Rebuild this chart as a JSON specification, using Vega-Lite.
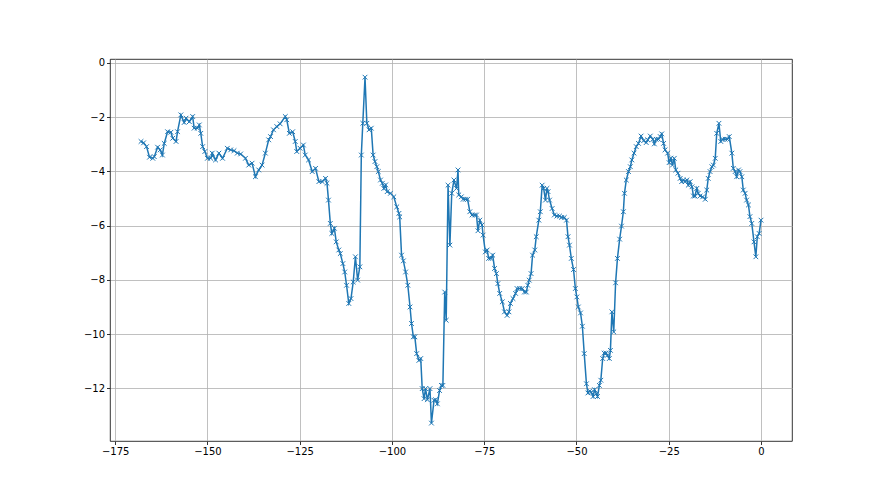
{
  "$schema": "https://vega.github.io/schema/vega-lite/v6.json",
  "width": 682,
  "height": 382,
  "autosize": {"type": "none"},
  "padding": {"left": 110, "top": 59, "right": 88, "bottom": 54},
  "background": "white",
  "config": {
    "view": {"stroke": "black", "strokeWidth": 0.8},
    "axis": {
      "domain": false,
      "grid": true,
      "gridColor": "#b0b0b0",
      "gridWidth": 0.8,
      "tickColor": "black",
      "tickSize": 3.5,
      "tickWidth": 0.8,
      "labelFont": "DejaVu Sans",
      "labelFontSize": 10,
      "labelColor": "black",
      "labelPadding": 2,
      "title": null
    }
  },
  "data": {
    "values": [
      {"x": -168, "y": -2.9}, {"x": -167.3, "y": -2.95}, {"x": -166.5, "y": -3.09}, {"x": -165.7, "y": -3.48}, {"x": -164.8, "y": -3.52}, {"x": -164.4, "y": -3.46},
      {"x": -163.5, "y": -3.11}, {"x": -162.8, "y": -3.21}, {"x": -162.2, "y": -3.4}, {"x": -161.7, "y": -2.97},
      {"x": -160.8, "y": -2.54}, {"x": -159.9, "y": -2.56}, {"x": -159.4, "y": -2.78}, {"x": -158.5, "y": -2.9},
      {"x": -158.1, "y": -2.54}, {"x": -157.2, "y": -1.92}, {"x": -156.3, "y": -2.2}, {"x": -155.8, "y": -2.04},
      {"x": -154.9, "y": -2.17}, {"x": -154, "y": -1.98}, {"x": -153.6, "y": -2.41}, {"x": -152.7, "y": -2.41},
      {"x": -152.2, "y": -2.29}, {"x": -151.8, "y": -2.6}, {"x": -151.3, "y": -3.09}, {"x": -150.7, "y": -3.27},
      {"x": -150, "y": -3.52}, {"x": -149.1, "y": -3.52}, {"x": -148.7, "y": -3.33}, {"x": -147.8, "y": -3.58},
      {"x": -146.9, "y": -3.33}, {"x": -145.9, "y": -3.52}, {"x": -144.6, "y": -3.15}, {"x": -143.7, "y": -3.21},
      {"x": -142.8, "y": -3.24}, {"x": -141.9, "y": -3.33}, {"x": -141, "y": -3.36}, {"x": -139.7, "y": -3.52},
      {"x": -138.8, "y": -3.77}, {"x": -137.9, "y": -3.7}, {"x": -137, "y": -4.2}, {"x": -136.1, "y": -3.95},
      {"x": -135.2, "y": -3.77}, {"x": -134.3, "y": -3.33}, {"x": -133.4, "y": -2.84}, {"x": -132.9, "y": -2.72},
      {"x": -132.1, "y": -2.47}, {"x": -131.2, "y": -2.35}, {"x": -130.3, "y": -2.25}, {"x": -128.9, "y": -1.98},
      {"x": -128.5, "y": -2.1}, {"x": -127.8, "y": -2.6}, {"x": -126.9, "y": -2.54}, {"x": -126.2, "y": -2.9},
      {"x": -125.8, "y": -3.27}, {"x": -124.9, "y": -3.15}, {"x": -124, "y": -3.03}, {"x": -123.5, "y": -3.4},
      {"x": -122.6, "y": -3.58}, {"x": -121.6, "y": -4.01}, {"x": -120.7, "y": -3.89}, {"x": -119.8, "y": -4.38},
      {"x": -118.9, "y": -4.38}, {"x": -118, "y": -4.26}, {"x": -117.6, "y": -4.44}, {"x": -117.2, "y": -5.06},
      {"x": -116.7, "y": -5.92}, {"x": -116.3, "y": -6.29}, {"x": -115.6, "y": -6.1}, {"x": -115.1, "y": -6.6},
      {"x": -114.4, "y": -6.9}, {"x": -114, "y": -7.03}, {"x": -113.3, "y": -7.4}, {"x": -112.8, "y": -7.71},
      {"x": -112.3, "y": -8.2}, {"x": -111.7, "y": -8.87}, {"x": -111.1, "y": -8.69}, {"x": -110.5, "y": -8.08},
      {"x": -109.9, "y": -7.15}, {"x": -109.3, "y": -8.01}, {"x": -108.7, "y": -7.52}, {"x": -108.3, "y": -3.4},
      {"x": -107.9, "y": -2.23}, {"x": -107.3, "y": -0.53}, {"x": -106.8, "y": -2.23}, {"x": -106.2, "y": -2.47},
      {"x": -105.6, "y": -2.41}, {"x": -105.1, "y": -3.4}, {"x": -104.6, "y": -3.64}, {"x": -104.1, "y": -3.83},
      {"x": -103.7, "y": -4.01}, {"x": -103.1, "y": -4.32}, {"x": -102.6, "y": -4.44}, {"x": -102.2, "y": -4.63},
      {"x": -101.7, "y": -4.5}, {"x": -101.3, "y": -4.75}, {"x": -100.4, "y": -4.81}, {"x": -99.5, "y": -4.94},
      {"x": -98.7, "y": -5.31}, {"x": -98.1, "y": -5.55}, {"x": -97.9, "y": -5.68}, {"x": -97.4, "y": -7.09},
      {"x": -96.9, "y": -7.3}, {"x": -96.3, "y": -7.71}, {"x": -95.7, "y": -8.2}, {"x": -95.1, "y": -9.0},
      {"x": -94.7, "y": -9.61}, {"x": -94.2, "y": -10.1}, {"x": -93.8, "y": -10.1}, {"x": -93.3, "y": -10.72},
      {"x": -92.7, "y": -10.97}, {"x": -92.2, "y": -10.9}, {"x": -91.8, "y": -12.01}, {"x": -91.3, "y": -12.38},
      {"x": -90.9, "y": -12.01}, {"x": -90.4, "y": -12.42}, {"x": -89.7, "y": -12.01}, {"x": -89.3, "y": -13.28},
      {"x": -88.6, "y": -12.44}, {"x": -88.2, "y": -12.42}, {"x": -87.7, "y": -12.57}, {"x": -87.1, "y": -12.08},
      {"x": -86.6, "y": -11.89}, {"x": -86.2, "y": -11.89}, {"x": -85.7, "y": -8.45}, {"x": -85.3, "y": -9.49},
      {"x": -84.8, "y": -4.51}, {"x": -84.3, "y": -6.72}, {"x": -83.8, "y": -4.81}, {"x": -83.2, "y": -4.32},
      {"x": -82.5, "y": -4.63}, {"x": -82.1, "y": -3.95}, {"x": -81.9, "y": -4.87}, {"x": -81.2, "y": -4.94},
      {"x": -80.7, "y": -5.03}, {"x": -80.1, "y": -5.03}, {"x": -79.5, "y": -5.03}, {"x": -78.9, "y": -5.49},
      {"x": -78.3, "y": -5.61}, {"x": -77.6, "y": -5.61}, {"x": -77.1, "y": -5.61}, {"x": -76.7, "y": -6.19},
      {"x": -76.2, "y": -5.8}, {"x": -75.6, "y": -5.98}, {"x": -75.3, "y": -6.35}, {"x": -74.7, "y": -6.97},
      {"x": -74.2, "y": -6.9}, {"x": -73.8, "y": -7.21}, {"x": -73.2, "y": -7.21}, {"x": -72.7, "y": -7.09},
      {"x": -72.2, "y": -7.58}, {"x": -71.7, "y": -7.77}, {"x": -71.3, "y": -8.14}, {"x": -70.8, "y": -8.5},
      {"x": -70.1, "y": -8.81}, {"x": -69.5, "y": -9.18}, {"x": -68.8, "y": -9.31}, {"x": -68.3, "y": -9.18},
      {"x": -67.9, "y": -8.87}, {"x": -67.2, "y": -8.69}, {"x": -66.5, "y": -8.5}, {"x": -66.1, "y": -8.32},
      {"x": -65.4, "y": -8.32}, {"x": -64.7, "y": -8.32}, {"x": -64.1, "y": -8.45}, {"x": -63.6, "y": -8.45},
      {"x": -63.2, "y": -8.2}, {"x": -62.8, "y": -8.01}, {"x": -62.3, "y": -7.77}, {"x": -61.9, "y": -7.09},
      {"x": -61.3, "y": -6.9}, {"x": -60.9, "y": -6.41}, {"x": -60.2, "y": -5.8}, {"x": -59.8, "y": -5.49},
      {"x": -59.3, "y": -4.51}, {"x": -58.9, "y": -4.63}, {"x": -58.4, "y": -5.06}, {"x": -58, "y": -4.63},
      {"x": -57.7, "y": -4.75}, {"x": -57.3, "y": -5.06}, {"x": -56.6, "y": -5.37}, {"x": -56, "y": -5.61},
      {"x": -55.3, "y": -5.65}, {"x": -54.6, "y": -5.65}, {"x": -54, "y": -5.7}, {"x": -53.3, "y": -5.7},
      {"x": -52.7, "y": -5.8}, {"x": -52.3, "y": -6.41}, {"x": -51.9, "y": -6.72}, {"x": -51.4, "y": -7.21},
      {"x": -50.8, "y": -7.62}, {"x": -50.3, "y": -8.32}, {"x": -49.9, "y": -8.63}, {"x": -49.5, "y": -9.0},
      {"x": -48.9, "y": -9.22}, {"x": -48.4, "y": -9.71}, {"x": -47.9, "y": -10.72}, {"x": -47.3, "y": -11.83},
      {"x": -46.9, "y": -12.17}, {"x": -46.4, "y": -12.1}, {"x": -46, "y": -12.14}, {"x": -45.5, "y": -12.3},
      {"x": -45.1, "y": -12.05}, {"x": -44.6, "y": -12.2}, {"x": -44.3, "y": -12.3}, {"x": -43.8, "y": -11.89},
      {"x": -43.4, "y": -11.7}, {"x": -42.9, "y": -10.9}, {"x": -42.5, "y": -10.7}, {"x": -42, "y": -10.7},
      {"x": -41.6, "y": -10.78}, {"x": -41.1, "y": -10.9}, {"x": -40.8, "y": -10.6}, {"x": -40.4, "y": -9.18},
      {"x": -39.9, "y": -9.92}, {"x": -39.4, "y": -8.11}, {"x": -38.9, "y": -7.21}, {"x": -38.3, "y": -6.5},
      {"x": -37.8, "y": -6.02}, {"x": -37.3, "y": -5.49}, {"x": -37, "y": -4.81}, {"x": -36.5, "y": -4.32},
      {"x": -35.9, "y": -4.01}, {"x": -35.4, "y": -3.83}, {"x": -35, "y": -3.58}, {"x": -34.4, "y": -3.33},
      {"x": -33.8, "y": -3.09}, {"x": -33.2, "y": -2.97}, {"x": -32.5, "y": -2.7}, {"x": -31.8, "y": -2.87},
      {"x": -31.1, "y": -2.94}, {"x": -30.7, "y": -2.84}, {"x": -30, "y": -2.7}, {"x": -29.3, "y": -2.82},
      {"x": -28.9, "y": -2.99}, {"x": -28.4, "y": -2.82}, {"x": -27.8, "y": -2.82}, {"x": -27.3, "y": -2.72},
      {"x": -26.9, "y": -2.62}, {"x": -26.4, "y": -2.97}, {"x": -26, "y": -3.21}, {"x": -25.3, "y": -3.33},
      {"x": -24.9, "y": -3.68}, {"x": -24.4, "y": -3.52}, {"x": -24, "y": -3.77}, {"x": -23.5, "y": -3.52},
      {"x": -23.1, "y": -3.95}, {"x": -22.5, "y": -4.07}, {"x": -21.9, "y": -4.26}, {"x": -21.5, "y": -4.38},
      {"x": -21, "y": -4.32}, {"x": -20.6, "y": -4.38}, {"x": -20.1, "y": -4.32}, {"x": -19.7, "y": -4.51},
      {"x": -19.2, "y": -4.38}, {"x": -18.7, "y": -4.57}, {"x": -18.3, "y": -4.91}, {"x": -17.9, "y": -4.91},
      {"x": -17.4, "y": -4.63}, {"x": -17, "y": -4.81}, {"x": -16.5, "y": -4.91}, {"x": -15.8, "y": -4.94},
      {"x": -15.1, "y": -5.03}, {"x": -14.7, "y": -4.69}, {"x": -14.3, "y": -4.26}, {"x": -13.8, "y": -4.01},
      {"x": -13.3, "y": -3.83}, {"x": -12.9, "y": -3.77}, {"x": -12.4, "y": -3.52}, {"x": -12, "y": -2.6},
      {"x": -11.4, "y": -2.23}, {"x": -10.9, "y": -2.9}, {"x": -10.4, "y": -2.82}, {"x": -9.7, "y": -2.82},
      {"x": -9.1, "y": -2.82}, {"x": -8.6, "y": -2.72}, {"x": -7.9, "y": -3.33}, {"x": -7.5, "y": -3.89},
      {"x": -7, "y": -4.01}, {"x": -6.6, "y": -4.2}, {"x": -6.1, "y": -3.95}, {"x": -5.7, "y": -4.01},
      {"x": -5.2, "y": -4.2}, {"x": -4.8, "y": -4.69}, {"x": -4.3, "y": -4.81}, {"x": -3.9, "y": -5.06},
      {"x": -3.4, "y": -5.24}, {"x": -3, "y": -5.67}, {"x": -2.5, "y": -5.92}, {"x": -1.9, "y": -6.6},
      {"x": -1.4, "y": -7.15}, {"x": -1, "y": -6.41}, {"x": -0.5, "y": -6.29}, {"x": 0, "y": -5.8}
    ]
  },
  "encoding": {
    "x": {
      "field": "x", "type": "quantitative",
      "scale": {"domain": [-176.4, 8.4], "nice": false, "zero": false},
      "axis": {"values": [-175, -150, -125, -100, -75, -50, -25, 0]}
    },
    "y": {
      "field": "y", "type": "quantitative",
      "scale": {"domain": [-13.94, 0.14], "nice": false, "zero": false},
      "axis": {"values": [0, -2, -4, -6, -8, -10, -12]}
    },
    "order": {"field": "x", "type": "quantitative"}
  },
  "layer": [
    {"mark": {"type": "line", "color": "#1f77b4", "strokeWidth": 1.5}},
    {"mark": {"type": "point", "shape": "M-1,-1L1,1M-1,1L1,-1", "filled": false, "stroke": "#1f77b4", "strokeWidth": 1, "size": 22, "opacity": 1}}
  ]
}
